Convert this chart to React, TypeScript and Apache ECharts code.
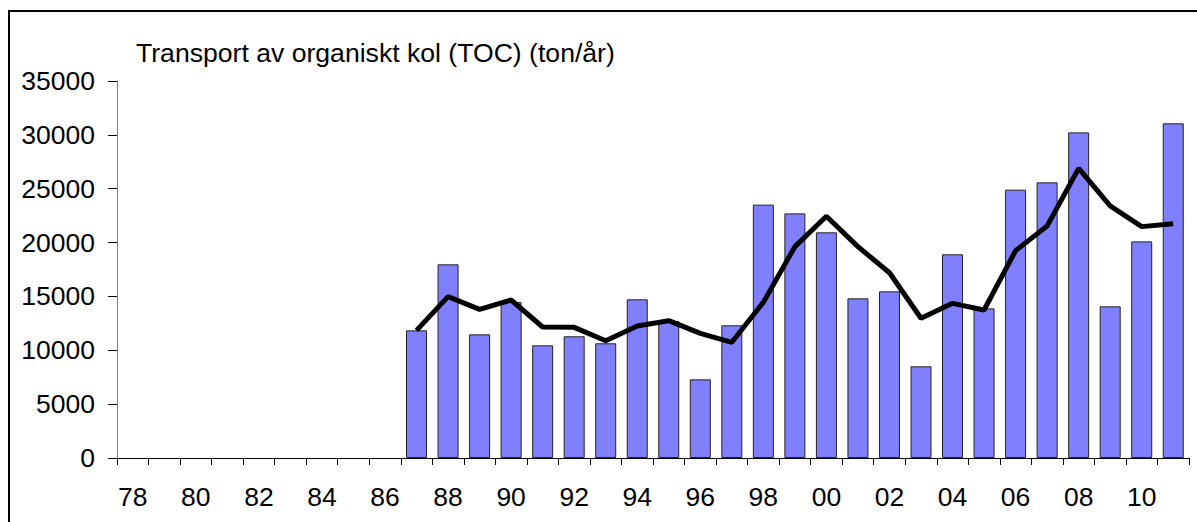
import React, { useEffect, useRef } from "react";
import * as echarts from "echarts";

const years: string[] = [];
for (let y = 1978; y <= 2011; y++) years.push(String(y % 100).padStart(2, "0"));

const emptyYears = [null, null, null, null, null, null, null, null, null];
const barValues = [11850, 17980, 11480, 14480, 10460, 11300, 10650, 14730, 12720, 7300, 12320, 23520, 22710, 20950, 14820, 15470, 8510, 18910, 13890, 24910, 25590, 30230, 14080, 20110, 31070];
const lineValues = [11850, 14980, 13800, 14670, 12160, 12130, 10890, 12250, 12750, 11570, 10740, 14450, 19620, 22440, 19620, 17200, 12970, 14360, 13740, 19250, 21540, 26890, 23400, 21480, 21750];
const titleText = "Transport av organiskt kol (TOC) (ton/år)";

const FONT = "'Liberation Sans', Arial, sans-serif";

export default function App() {
  const ref = useRef<HTMLDivElement>(null);
  useEffect(() => {
    if (!ref.current) return;
    const chart = echarts.init(ref.current, undefined, { renderer: "svg" });
    chart.setOption({
      animation: false,
      backgroundColor: "#ffffff",
      grid: { left: 117, top: 81, right: 8, bottom: 64, containLabel: false },
      graphic: [
        {
          type: "rect",
          shape: { x: 9, y: 11, width: 1300, height: 700 },
          style: { fill: "none", stroke: "#000", lineWidth: 2 },
          silent: true,
        },
        {
          type: "text",
          x: 136,
          y: 52.5,
          style: {
            text: titleText,
            font: `26.6px ${FONT}`,
            fill: "#000",
            verticalAlign: "middle",
            align: "left",
          },
        },
      ],
      xAxis: {
        type: "category",
        data: years,
        boundaryGap: true,
        axisLine: { lineStyle: { color: "#000", width: 1 } },
        axisTick: { show: true, interval: 0, length: 7, lineStyle: { color: "#000" } },
        axisLabel: { interval: 1, margin: 25, fontSize: 26.5, fontFamily: FONT, color: "#000" },
        splitLine: { show: false },
      },
      yAxis: {
        type: "value",
        min: 0,
        max: 35000,
        interval: 5000,
        axisLine: { show: true, lineStyle: { color: "#808080", width: 1 } },
        axisTick: { show: true, length: 9, lineStyle: { color: "#000" } },
        axisLabel: {
          margin: 22,
          fontSize: 26.5,
          fontFamily: FONT,
          color: "#000",
          formatter: (v: number) => String(v),
        },
        splitLine: { show: false },
      },
      series: [
        {
          type: "bar",
          data: [...emptyYears, ...barValues],
          barWidth: 21,
          itemStyle: { color: "#8080FF", borderColor: "#222", borderWidth: 1 },
        },
        {
          type: "line",
          data: [...emptyYears, ...lineValues],
          symbol: "none",
          lineStyle: { color: "#000", width: 5 },
          z: 5,
        },
      ],
    });
    return () => chart.dispose();
  }, []);
  return (
    <div
      ref={ref}
      style={{ position: "fixed", left: 0, top: 0, width: 1197, height: 522 }}
    />
  );
}
